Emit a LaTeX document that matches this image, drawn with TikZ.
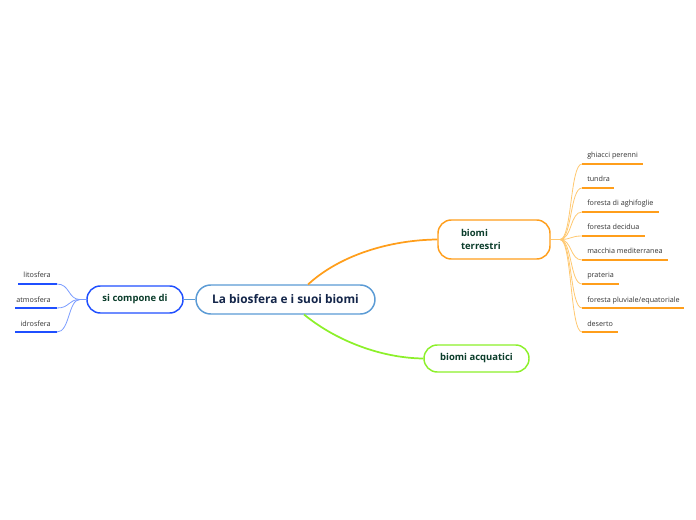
\documentclass[tikz,border=0pt]{standalone}
\usepackage{fontspec}
\setmainfont{Open Sans}
\definecolor{txtgreen}{HTML}{0B3D2B}
\definecolor{txtnavy}{HTML}{14264A}
\definecolor{cblue}{HTML}{5B9BD5}
\definecolor{dblue}{HTML}{1F4FFF}
\definecolor{corange}{HTML}{FF9E1B}
\definecolor{lorange}{HTML}{FFC870}
\definecolor{cgreen}{HTML}{8CF02A}
\definecolor{lblue}{HTML}{7A9CFF}
\definecolor{leaftxt}{HTML}{333333}
\begin{document}
\begin{tikzpicture}[x=0.75pt,y=-0.75pt,
  mainbox/.style={draw=cblue,line width=1.1pt,rounded corners=11pt,fill=white,minimum width=179*0.75pt,minimum height=29*0.75pt,inner sep=0pt,font=\fontsize{8.9}{11}\selectfont\bfseries,text=txtnavy},
  subbox/.style={draw=#1,line width=1.1pt,rounded corners=10pt,fill=white,inner sep=0pt,font=\fontsize{7.1}{9}\selectfont\bfseries,text=txtgreen},
  leaftext/.style={font=\fontsize{5.4}{6.5}\selectfont,text=leaftxt,anchor=base west,inner sep=0pt},
  leafline/.style={line width=1.6pt},
  twig/.style={line width=0.6pt}]
\useasboundingbox (0,0) rectangle (696,520);
% main
\node[mainbox] (main) at (285.5,299.5) {La biosfera e i suoi biomi};
\node[subbox=dblue,minimum width=96*0.75pt,minimum height=27*0.75pt] (comp) at (135,299.5) {si compone di};
\node[subbox=corange,minimum width=112*0.75pt,minimum height=39*0.75pt,text width=66*0.75pt,align=left,font=\fontsize{7.1}{9.9}\selectfont\bfseries] (terr) at (494,239.5) {biomi\\terrestri};
\node[subbox=cgreen,minimum width=105*0.75pt,minimum height=27*0.75pt] (acq) at (476.5,358.5) {biomi acquatici};
% main connectors
\coordinate (mtop) at (308,284.5);
\coordinate (mbot) at (304,314.5);
\draw[cblue,line width=1.1pt] (comp.east) -- (main.west);
\draw[corange,line width=1.3pt] (mtop) .. controls (340,255) and (390,240) .. (terr.west);
\draw[cgreen,line width=1.3pt] (mbot) .. controls (335,340) and (380,358) .. (acq.west);
% right leaves
\coordinate (rt) at (560,239.5);
\draw[lorange,twig] (terr.east) -- (rt);
\foreach \n/\t/\y/\w in {a/{ghiacci perenni}/164/61, b/tundra/188/32, c/{foresta di aghifoglie}/212/77, d/{foresta decidua}/236/63, e/{macchia mediterranea}/260/86, f/prateria/284/37, g/{foresta pluviale/equatoriale}/308/102, h/deserto/332/36}{
  \coordinate (\n s) at (582,\y);
  \coordinate (\n e) at (582+\w,\y);
  \draw[corange,leafline] (\n s) -- (\n e);
  \node[leaftext] (\n t) at (587,\y-6) {\t};
  \draw[lorange,twig] (rt) .. controls (572,239.5) and (570,\y) .. (\n s);
}
% left leaves
\coordinate (lt) at (80,299.5);
\draw[lblue,twig] (comp.west) -- (lt);
\foreach \n/\t/\y/\x in {p/litosfera/284/18, q/atmosfera/308/15, r/idrosfera/332/15}{
  \coordinate (\n s) at (57,\y);
  \coordinate (\n e) at (\x,\y);
  \draw[dblue,leafline] (\n s) -- (\n e);
  \node[leaftext,anchor=base east] (\n t) at (51,\y-6) {\t};
  \draw[lblue,twig] (lt) .. controls (68,299.5) and (70,\y) .. (\n s);
}
\end{tikzpicture}
\end{document}
